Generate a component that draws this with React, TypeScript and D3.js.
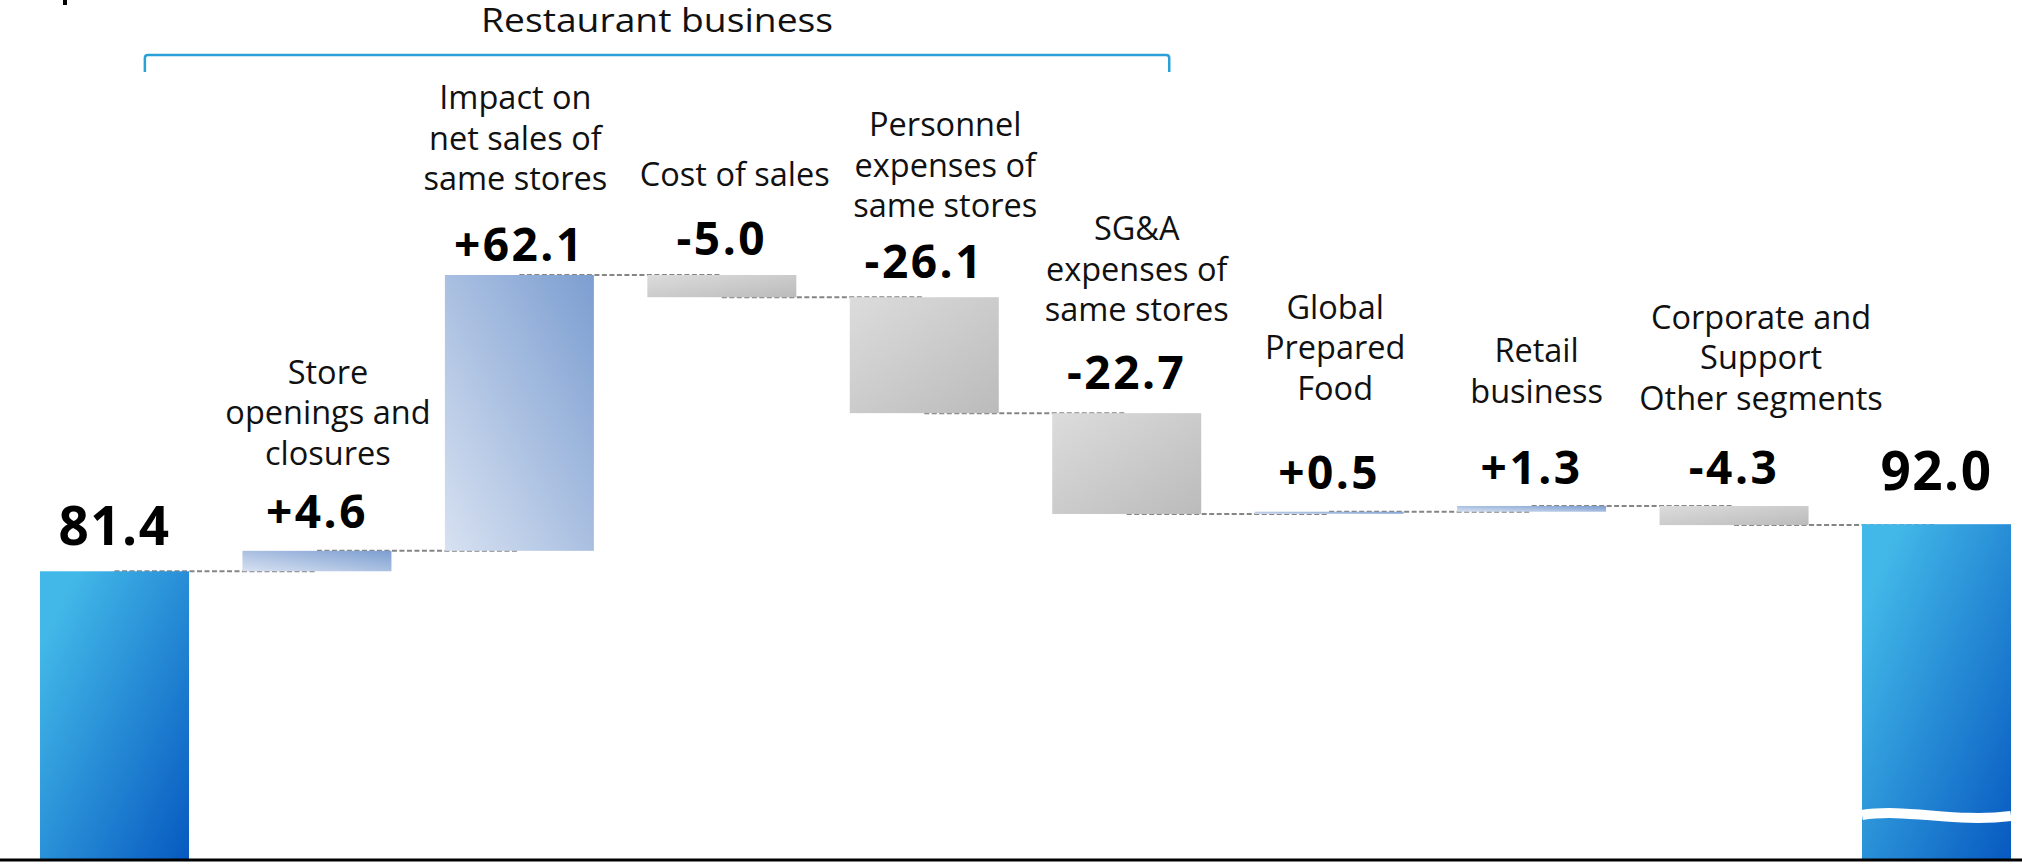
import React, { useEffect, useRef } from 'react';
import * as d3 from 'd3';

// Waterfall data
const categories = [
  'Previous',
  'Store openings and closures',
  'Impact on net sales of same stores',
  'Cost of sales',
  'Personnel expenses of same stores',
  'SG&A expenses of same stores',
  'Global Prepared Food',
  'Retail business',
  'Corporate and Support Other segments',
  'Current',
];
const labelLines = [
  [],
  ['Store', 'openings and', 'closures'],
  ['Impact on', 'net sales of', 'same stores'],
  ['Cost of sales'],
  ['Personnel', 'expenses of', 'same stores'],
  ['SG&A', 'expenses of', 'same stores'],
  ['Global', 'Prepared', 'Food'],
  ['Retail', 'business'],
  ['Corporate and', 'Support', 'Other segments'],
  [],
];
const values = [81.4, 4.6, 62.1, -5.0, -26.1, -22.7, 0.5, 1.3, -4.3, 92.0];
const isTotal = [true, false, false, false, false, false, false, false, false, true];
const bracketTitle = 'Restaurant business';
const bracketFrom = 'Store openings and closures';
const bracketTo = 'SG&A expenses of same stores';

// layout tweaks for the hand placed text boxes
const valueGap = [26, 23, 14, 20, 19, 24, 23, 22, 22, 34];
const labelGap = [0, 63, 71, 69, 61, 68, 89, 81, 74, 0];
const labelDx = [0, 11, -4, 13, 21, 10, 6, 5, 27, 0];

const App = () => {
  const svgRef = useRef<SVGSVGElement>(null);

  useEffect(() => {
    const width = 2022;
    const height = 867;
    const axisY = 860;
    const font = '"Open Sans", "Noto Sans", sans-serif';

    d3.select(svgRef.current).selectAll('*').remove();

    const svg = d3.select(svgRef.current)
      .attr('width', width)
      .attr('height', height)
      .style('background', '#fff');

    // running totals
    let run = 0;
    const steps = values.map((v, i) => {
      if (isTotal[i]) {
        run = v;
        return { cat: categories[i], start: null as number | null, end: v, value: v, total: true, i };
      }
      const start = run;
      run = run + v;
      return { cat: categories[i], start, end: run, value: v, total: false, i };
    });

    const x = d3.scaleBand()
      .domain(categories)
      .range([40, 2011])
      .paddingInner(0.264)
      .paddingOuter(0);

    const y = d3.scaleLinear()
      .domain([16.4, 148.1])
      .range([axisY, 275]);

    const bw = x.bandwidth();
    const cx = (c: string) => (x(c) as number) + bw / 2;

    // gradients
    const defs = svg.append('defs');
    const grad = (id: string, x1: number, y1: number, x2: number, y2: number, c1: string, c2: string) => {
      const g = defs.append('linearGradient')
        .attr('id', id)
        .attr('x1', x1).attr('y1', y1).attr('x2', x2).attr('y2', y2);
      g.append('stop').attr('offset', '0%').attr('stop-color', c1);
      g.append('stop').attr('offset', '100%').attr('stop-color', c2);
    };
    grad('gTotal', 0.1, 0.15, 1, 1, '#42B8E8', '#0759C0');
    grad('gUp', 0, 1, 1, 0, '#D7E1F1', '#7C9ED1');
    grad('gDown', 0, 0, 1, 1, '#DCDCDC', '#BBBBBB');

    // dashed connectors (centre to centre)
    for (let k = 0; k < steps.length - 1; k++) {
      const level = steps[k].end;
      svg.append('line')
        .attr('x1', cx(steps[k].cat))
        .attr('x2', cx(steps[k + 1].cat))
        .attr('y1', y(level))
        .attr('y2', y(level))
        .attr('stroke', '#858585')
        .attr('stroke-width', 2)
        .attr('stroke-dasharray', '5 2.5');
    }

    // bars
    steps.forEach((s) => {
      const top = s.total ? y(s.end) : y(Math.max(s.start as number, s.end));
      const bottom = s.total ? axisY : y(Math.min(s.start as number, s.end));
      svg.append('rect')
        .attr('x', x(s.cat) as number)
        .attr('y', top)
        .attr('width', bw)
        .attr('height', Math.max(bottom - top, 2))
        .attr('fill', s.total ? 'url(#gTotal)' : s.value >= 0 ? 'url(#gUp)' : 'url(#gDown)');

      // value label
      const vb = top - valueGap[s.i];
      const txt = s.total
        ? s.value.toFixed(1)
        : (s.value > 0 ? '+' : '-') + Math.abs(s.value).toFixed(1);
      svg.append('text')
        .attr('x', cx(s.cat))
        .attr('y', vb)
        .attr('text-anchor', 'middle')
        .style('font-family', font)
        .style('font-weight', 'bold')
        .style('font-size', s.total ? '53px' : '46px')
        .style('letter-spacing', s.total ? '1.5px' : '2.5px')
        .style('fill', '#000')
        .text(txt);

      // category label
      const lines = labelLines[s.i];
      const lastBase = vb - labelGap[s.i];
      lines.forEach((ln, j) => {
        svg.append('text')
          .attr('x', cx(s.cat) + labelDx[s.i])
          .attr('y', lastBase - (lines.length - 1 - j) * 40.5)
          .attr('text-anchor', 'middle')
          .style('font-family', font)
          .style('font-size', '32.5px')
          .style('fill', '#111')
          .text(ln);
      });
    });

    // axis break on the last total bar
    const last = categories[categories.length - 1];
    const lx = x(last) as number;
    const wy = axisY - 45;
    svg.append('path')
      .attr('d', `M${lx},${wy} C${lx + bw * 0.3},${wy - 7} ${lx + bw * 0.62},${wy + 8} ${lx + bw},${wy + 1}`)
      .attr('fill', 'none')
      .attr('stroke', '#fff')
      .attr('stroke-width', 10);

    // baseline
    svg.append('line')
      .attr('x1', 0).attr('x2', width)
      .attr('y1', axisY).attr('y2', axisY)
      .attr('stroke', '#000')
      .attr('stroke-width', 3);

    // bracket over the restaurant segments
    const step = x.step();
    const bl = cx(bracketFrom) - 0.85 * step;
    const br = cx(bracketTo) + 0.21 * step;
    svg.append('path')
      .attr('d', `M${bl},72 L${bl},58 Q${bl},55 ${bl + 3},55 L${br - 3},55 Q${br},55 ${br},58 L${br},72`)
      .attr('fill', 'none')
      .attr('stroke', '#2AA1D6')
      .attr('stroke-width', 2.5);
    svg.append('text')
      .attr('x', (bl + br) / 2)
      .attr('y', 32)
      .attr('text-anchor', 'middle')
      .attr('textLength', 352)
      .attr('lengthAdjust', 'spacingAndGlyphs')
      .style('font-family', font)
      .style('font-size', '33px')
      .style('fill', '#111')
      .text(bracketTitle);

    // clipped remnant of a heading above the frame
    svg.append('rect')
      .attr('x', 63).attr('y', 0)
      .attr('width', 4).attr('height', 5)
      .attr('fill', '#000');
  }, []);

  return (
    <div>
      <svg ref={svgRef} style={{ position: 'absolute', left: 0, top: 0, display: 'block' }}></svg>
    </div>
  );
};

export default App;
